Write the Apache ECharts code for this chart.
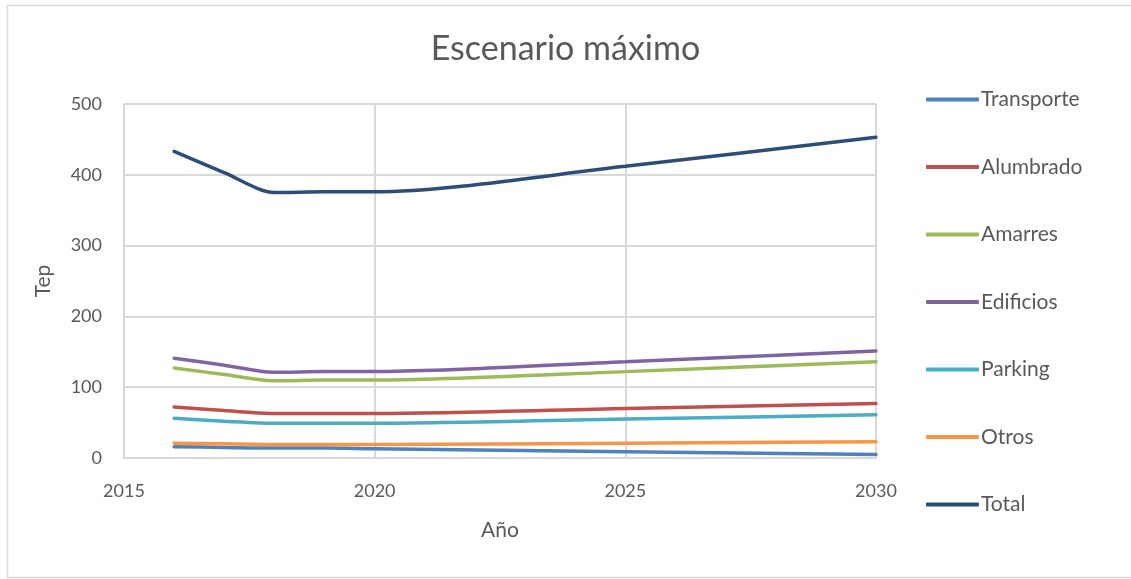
<!DOCTYPE html>
<html>
<head>
<meta charset="utf-8">
<script src="https://cdn.jsdelivr.net/npm/echarts@6/dist/echarts.min.js"></script>
<style>
  html, body { margin: 0; padding: 0; background: #fff; }
  #chart { width: 1131px; height: 579px; }
</style>
</head>
<body>
<div id="chart"></div>
<script>
// años
const years = [2016, 2017, 2018, 2019, 2020, 2025, 2030];

// series (Tep)
const transporte = [16, 15, 14, 14, 13, 9, 5];
const alumbrado = [72, 67, 63, 63, 63, 70, 77];
const amarres = [127, 118, 109, 110, 110, 122, 136];
const edificios = [141, 131, 121, 122, 122, 136, 151];
const parking = [56, 52, 49, 49, 49, 55, 61];
const otros = [21, 20, 19, 19, 19, 21, 23];
const total = [433, 403, 375, 376, 376, 412, 453];

const names = ['Transporte', 'Alumbrado', 'Amarres', 'Edificios', 'Parking', 'Otros', 'Total'];
const colors = ['#4f81bd', '#c0504d', '#9bbb59', '#8064a2', '#4bacc6', '#f79646', '#2c4d75'];
const values = [transporte, alumbrado, amarres, edificios, parking, otros, total];

const textColor = '#595959';
const gridColor = '#d9d9d9';
const font = 'Lato, "Open Sans", sans-serif';

const chart = echarts.init(document.getElementById('chart'));

const series = names.map((name, i) => ({
  name: name,
  type: 'line',
  smooth: 0.28,
  showSymbol: false,
  symbol: 'none',
  lineStyle: { width: 3.5, color: colors[i], cap: 'round' },
  itemStyle: { color: colors[i] },
  data: years.map((y, j) => [y, values[i][j]]),
}));

chart.setOption({
  animation: false,
  textStyle: { fontFamily: font },
  title: {
    text: 'Escenario máximo',
    left: 'center',
    top: 27,
    textStyle: { fontSize: 34, fontWeight: 'normal', color: textColor, fontFamily: font },
  },
  graphic: [{
    type: 'rect',
    shape: { x: 7.5, y: 5.5, width: 1130, height: 572 },
    style: { fill: 'none', stroke: gridColor, lineWidth: 1.5 },
    silent: true,
  }],
  grid: { left: 124, right: 255, top: 104, bottom: 121 },
  legend: {
    orient: 'vertical',
    left: 921,
    top: 84,
    icon: 'roundRect',
    itemWidth: 53,
    itemHeight: 4,
    itemGap: 46.5,
    textStyle: { fontSize: 21, color: textColor, fontFamily: font, padding: [0, 0, 0, -3] },
    data: names,
  },
  xAxis: {
    type: 'value',
    min: 2015,
    max: 2030,
    interval: 5,
    name: 'Año',
    nameLocation: 'middle',
    nameGap: 62,
    nameTextStyle: { fontSize: 21, color: textColor },
    axisLine: { lineStyle: { color: gridColor, width: 2 } },
    axisTick: { show: false },
    axisLabel: { formatter: (v) => String(v), fontSize: 18, color: textColor, margin: 24 },
    splitLine: { lineStyle: { color: gridColor, width: 2 } },
  },
  yAxis: {
    type: 'value',
    min: 0,
    max: 500,
    interval: 100,
    name: 'Tep',
    nameLocation: 'middle',
    nameGap: 70,
    nameRotate: 90,
    nameTextStyle: { fontSize: 21, color: textColor },
    axisLine: { show: true, lineStyle: { color: gridColor, width: 2 } },
    axisTick: { show: false },
    axisLabel: { fontSize: 18, color: textColor, margin: 22 },
    splitLine: { lineStyle: { color: gridColor, width: 2 } },
  },
  series: series,
});
</script>
</body>
</html>
